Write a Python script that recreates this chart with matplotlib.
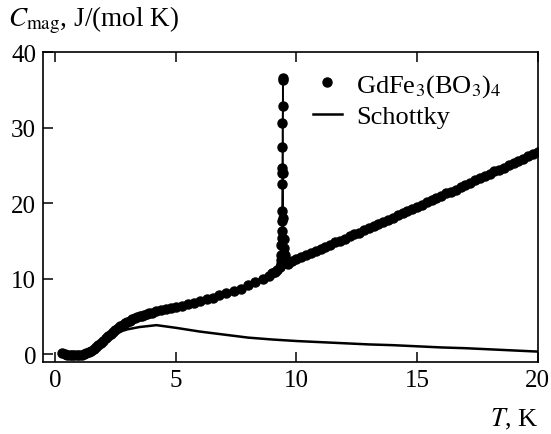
import matplotlib
matplotlib.use("Agg")
import matplotlib.pyplot as plt

plt.rcParams["font.family"] = ["Liberation Serif", "DejaVu Serif"]
plt.rcParams["mathtext.fontset"] = "stix"

# measured heat capacity, below the transition
T_low = [0.3, 0.4, 0.5, 0.6, 0.7, 0.8, 0.9, 1.0, 1.1, 1.2, 1.3, 1.4, 1.5, 1.6,
         1.7, 1.8, 1.9, 2.0, 2.1, 2.2, 2.3, 2.4, 2.5, 2.6, 2.7, 2.8, 2.9, 3.0,
         3.1, 3.2, 3.3, 3.4, 3.5, 3.6, 3.7, 3.8, 3.9, 4.0, 4.2, 4.4, 4.6, 4.8,
         5.0, 5.25, 5.5, 5.75, 6.0, 6.3, 6.55, 6.8, 7.1, 7.4, 7.7, 8.0, 8.3,
         8.6, 8.85, 9.0, 9.1, 9.2, 9.3]
C_low = [0.1, 0.0, -0.05, -0.1, -0.15, -0.15, -0.15, -0.1, -0.05, 0.0, 0.1,
         0.25, 0.45, 0.7, 0.95, 1.2, 1.5, 1.8, 2.1, 2.4, 2.7, 2.95, 3.2, 3.45,
         3.7, 3.9, 4.1, 4.3, 4.45, 4.6, 4.75, 4.9, 5.0, 5.1, 5.2, 5.3, 5.4,
         5.5, 5.7, 5.85, 6.0, 6.1, 6.25, 6.4, 6.6, 6.8, 7.1, 7.3, 7.5, 7.8,
         8.1, 8.4, 8.7, 9.1, 9.5, 10.0, 10.4, 10.7, 10.9, 11.2, 11.5]

# lambda peak at the Neel point
T_peak = [9.35, 9.37, 9.38, 9.38, 9.39, 9.39, 9.4, 9.4, 9.41, 9.41, 9.41,
          9.42, 9.42, 9.43, 9.43, 9.44, 9.45, 9.46, 9.48, 9.5, 9.52, 9.55,
          9.6, 9.65]
C_peak = [12.0, 12.5, 13.1, 14.4, 15.4, 16.3, 17.6, 18.9, 22.6, 24.0, 24.6,
          27.4, 30.6, 32.8, 36.3, 36.6, 24.0, 18.0, 15.2, 14.0, 13.2, 12.5,
          12.1, 11.9]

# above the transition
T_high = [9.8, 10.0, 10.2, 10.4, 10.6, 10.8, 11.0, 11.2, 11.4, 11.6, 11.8,
          12.0, 12.2, 12.4, 12.6, 12.8, 13.0, 13.2, 13.4, 13.6, 13.8, 14.0,
          14.2, 14.4, 14.6, 14.8, 15.0, 15.2, 15.4, 15.6, 15.8, 16.0, 16.2,
          16.4, 16.6, 16.8, 17.0, 17.2, 17.4, 17.6, 17.8, 18.0, 18.2, 18.4,
          18.6, 18.8, 19.0, 19.2, 19.4, 19.6, 19.8, 20.0]
C_high = [12.3, 12.6, 12.9, 13.1, 13.4, 13.7, 13.9, 14.2, 14.5, 14.8, 15.0,
          15.3, 15.6, 15.9, 16.1, 16.4, 16.7, 17.0, 17.3, 17.5, 17.8, 18.1,
          18.4, 18.7, 19.0, 19.2, 19.5, 19.8, 20.1, 20.4, 20.7, 21.0, 21.3,
          21.5, 21.8, 22.1, 22.4, 22.7, 23.0, 23.3, 23.6, 23.9, 24.2, 24.4,
          24.7, 25.0, 25.3, 25.6, 25.9, 26.2, 26.5, 26.8]

# Schottky contribution
T_sch = [0.3, 0.7, 1.0, 1.3, 1.5, 1.8, 2.0, 2.3, 2.5, 2.8, 3.0, 3.5, 4.2,
         5.0, 6.0, 7.0, 8.0, 9.0, 10.0, 11.0, 12.0, 13.0, 14.0, 15.0, 16.0,
         17.0, 18.0, 19.0, 20.0]
C_sch = [0.0, -0.1, -0.05, 0.1, 0.4, 1.0, 1.5, 2.3, 2.8, 3.1, 3.3, 3.6,
         3.85, 3.5, 3.0, 2.6, 2.2, 1.95, 1.75, 1.6, 1.45, 1.3, 1.2, 1.05,
         0.9, 0.8, 0.65, 0.5, 0.35]

fig = plt.figure(figsize=(5.51, 4.35), dpi=100)
ax = fig.add_axes([0.078, 0.166, 0.898, 0.712])

ax.plot(T_sch, C_sch, color="black", lw=1.8, label="Schottky", zorder=2)
ax.plot(T_peak, C_peak, color="black", lw=1.0, zorder=2)
ax.plot(T_peak, C_peak, "o", color="black", ms=6.5, zorder=3)
ax.plot(T_low + T_high, C_low + C_high, "o", color="black", ms=6.5,
        label="GdFe$_3$(BO$_3$)$_4$", zorder=3)

ax.set_xlim(-0.5, 20)
ax.set_ylim(-1, 40)
ax.set_xticks([0, 5, 10, 15, 20])
ax.set_yticks([0, 10, 20, 30, 40])
ax.tick_params(direction="in", length=7, width=1.1, labelsize=18,
               top=True, right=False, pad=5)
for s in ax.spines.values():
    s.set_linewidth(1.2)

handles, labels = ax.get_legend_handles_labels()
ax.legend(handles[::-1], labels[::-1], loc="upper left",
          bbox_to_anchor=(0.545, 0.935), frameon=False, fontsize=19,
          handlelength=1.1, handletextpad=0.55, labelspacing=0.2,
          borderpad=0, borderaxespad=0)

fig.text(0.014, 0.953, "$C_{\\mathrm{mag}}$, J/(mol K)", fontsize=19.5,
         va="center", ha="left")
fig.text(0.978, 0.035, "$T$, K", fontsize=19, va="center", ha="right")

fig.savefig("out.png", dpi=100)
